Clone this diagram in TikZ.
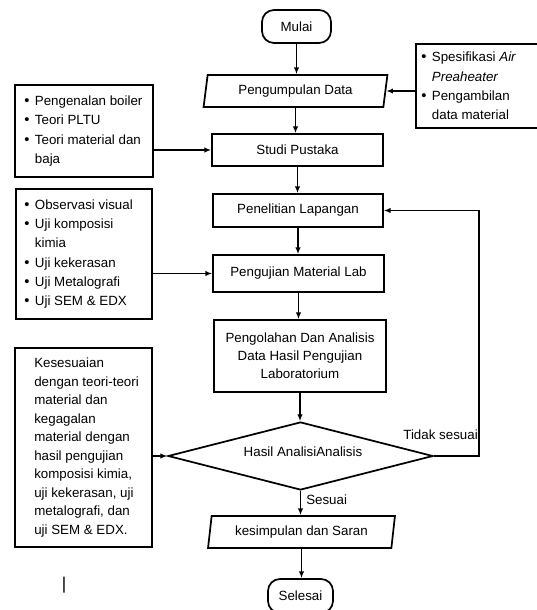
\documentclass[tikz,border=0pt]{standalone}
\usepackage{fontspec}
\setmainfont{Liberation Sans}
\usetikzlibrary{shapes.geometric,arrows.meta}
\newcommand\bu{\makebox[8pt][l]{\raisebox{0pt}{\fontsize{11}{11}\selectfont\textbullet}}}
\newcommand\hang{\hspace*{8pt}}
\begin{document}
\begin{tikzpicture}[x=0.75pt,y=-0.75pt,
  font=\fontsize{10}{12}\selectfont,
  box/.style={draw, line width=1.3pt, inner sep=0pt, align=center},
  term/.style={draw, line width=1.3pt, rounded corners=9pt, inner sep=0pt},
  para/.style={draw, line width=1.3pt, inner sep=0pt, trapezium, trapezium left angle=78,
    trapezium right angle=102, trapezium stretches=true},
  dec/.style={draw, line width=1.3pt, inner sep=0pt, diamond, aspect=3.9},
  listtxt/.style={align=left, inner sep=0pt, anchor=west, font=\fontsize{10}{14.5}\selectfont},
  lbl/.style={inner sep=0pt},
  arr/.style={line width=1pt, -{Latex[length=5pt,width=4pt]}}]
\useasboundingbox (0,0) rectangle (536,610);

% main column
\node[term, minimum width=51.75pt, minimum height=24.75pt] (mulai) at (296.5,26.5) {Mulai};
\node[para, minimum width=138.75pt, minimum height=24pt] (pd) at (295.5,91) {Pengumpulan Data};
\node[box, minimum width=128.25pt, minimum height=24pt] (studi) at (297.5,150) {Studi Pustaka};
\node[box, minimum width=127.5pt, minimum height=24.75pt] (pen) at (298,210.5) {Penelitian Lapangan};
\node[box, minimum width=128.25pt, minimum height=27.75pt] (uji) at (298.5,273.5) {Pengujian Material Lab};
\node[box, minimum width=129pt, minimum height=54pt, font=\fontsize{10}{13.5}\selectfont] (olah) at (300,356)
  {Pengolahan Dan Analisis\\Data Hasil Pengujian\\Laboratorium};
\node[dec, minimum width=198.75pt, minimum height=51pt] (dia) at (300.5,456) {};
\node[lbl] (diatxt) at (303,452) {Hasil AnalisiAnalisis};
\node[para, minimum width=140.25pt, minimum height=24pt] (kes) at (301.5,532) {kesimpulan dan Saran};
\node[term, minimum width=48.75pt, minimum height=25.5pt] (selesai) at (300.5,596) {Selesai};

% side boxes
\node[box, minimum width=120pt, minimum height=63pt] (spes) at (496,86) {};
\node[listtxt] (spestxt) at (421,86)
  {\bu Spesifikasi \textit{Air}\\\hang\textit{Preaheater}\\\bu Pengambilan\\\hang data material};
\node[box, minimum width=103.5pt, minimum height=69pt] (b1) at (84,131) {};
\node[listtxt] (b1txt) at (24,131)
  {\bu Pengenalan boiler\\\bu Teori PLTU\\\bu Teori material dan\\\hang baja};
\node[box, minimum width=102pt, minimum height=97.5pt] (b2) at (84,254) {};
\node[listtxt] (b2txt) at (24,254)
  {\bu Observasi visual\\\bu Uji komposisi\\\hang kimia\\\bu Uji kekerasan\\\bu Uji Metalografi\\\bu Uji SEM \& EDX};
\node[box, minimum width=102.75pt, minimum height=149.25pt] (b3) at (83.5,447.5) {};
\node[listtxt, font=\fontsize{10}{13.9}\selectfont] (b3txt) at (34,447.5)
  {Kesesuaian\\dengan teori-teori\\material dan\\kegagalan\\material dengan\\hasil pengujian\\komposisi kimia,\\uji kekerasan, uji\\metalografi, dan\\uji SEM \& EDX.};

% labels
\node[lbl, anchor=east] (tidak) at (478,435) {Tidak sesuai};
\node[lbl, anchor=west] (sesuai) at (306,500) {Sesuai};
\node[lbl, font=\fontsize{12.8}{14}\selectfont] (cursor) at (64,585) {|};

% connectors
\coordinate (loopc) at (479,0);
\draw[arr] (mulai.south) -- (mulai.south |- pd.north);
\draw[arr] (pd.east -| spes.west) -- (pd.east);
\draw[arr] (pd.south) -- (pd.south |- studi.north);
\draw[arr] (studi.west -| b1.east) -- (studi.west);
\draw[arr] (studi.south) -- (studi.south |- pen.north);
\draw[arr] (pen.south) -- (pen.south |- uji.north);
\draw[arr] (uji.west -| b2.east) -- (uji.west);
\draw[arr] (uji.south) -- (uji.south |- olah.north);
\draw[arr] (olah.south) -- (olah.south |- dia.north);
\draw[arr] (dia.west -| b3.east) -- (dia.west);
\draw[arr] (dia.east) -- (dia.east -| loopc) -- (pen.east -| loopc) -- (pen.east);
\draw[arr] (dia.south) -- (dia.south |- kes.north);
\draw[arr] (kes.south) -- (kes.south |- selesai.north);
\end{tikzpicture}
\end{document}
